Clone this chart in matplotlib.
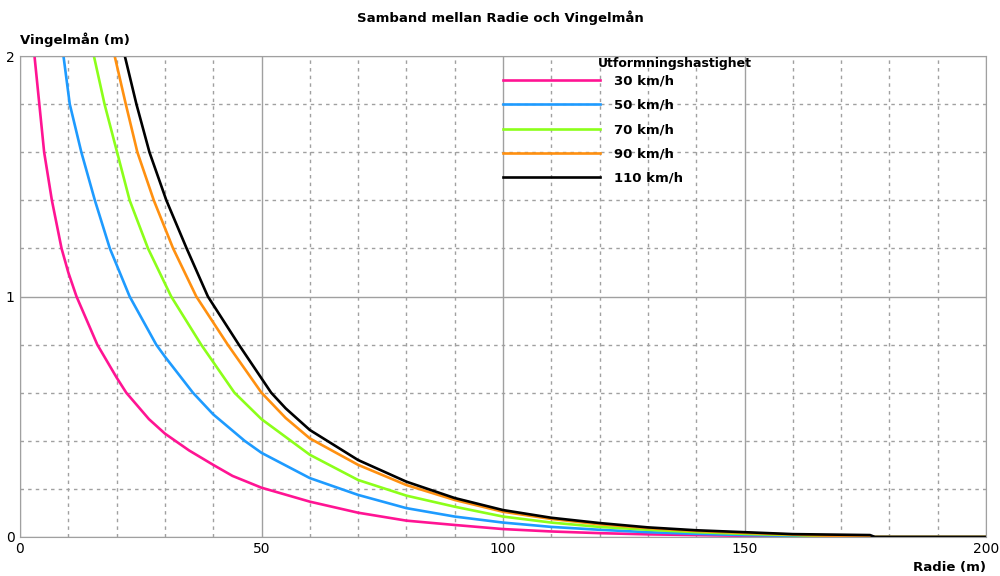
import matplotlib.pyplot as plt
from matplotlib.ticker import MultipleLocator

# Radie (m) and Vingelmån (m), one pair of lists per speed
r30 = [3.0, 4.0, 5.0, 6.6, 8.6, 10, 11.7, 16.0, 20, 22.0, 26.7, 30, 35, 40, 44, 50,
       60, 70, 80, 90, 100, 110, 120, 130, 140, 150, 160, 200]
v30 = [2.0, 1.8, 1.6, 1.4, 1.2, 1.1, 1.0, 0.8, 0.663, 0.6, 0.49, 0.43, 0.36, 0.30, 0.254,
       0.205, 0.147, 0.101, 0.068, 0.05, 0.033, 0.023, 0.016, 0.011, 0.008, 0.005,
       0.0, 0.0]

r50 = [9.0, 10.3, 12.7, 15.5, 18.6, 22.7, 28.2, 30, 35.8, 40, 46.5, 50, 60, 70, 80,
       90, 100, 110, 120, 130, 140, 150, 160, 169, 200]
v50 = [2.0, 1.8, 1.6, 1.4, 1.2, 1.0, 0.8, 0.75, 0.6, 0.51, 0.4, 0.35, 0.245, 0.175,
       0.12, 0.085, 0.06, 0.042, 0.03, 0.02, 0.013, 0.008, 0.005, 0.0, 0.0]

r70 = [15.3, 17.5, 20.1, 22.7, 26.5, 31.3, 37.5, 44.4, 50, 60, 70, 80, 90, 100, 110,
       120, 130, 140, 150, 160, 174, 200]
v70 = [2.0, 1.8, 1.6, 1.4, 1.2, 1.0, 0.8, 0.6, 0.49, 0.342, 0.237, 0.172, 0.126,
       0.085, 0.06, 0.042, 0.03, 0.02, 0.013, 0.008, 0.0, 0.0]

r90 = [19.6, 21.9, 24.3, 27.7, 31.7, 36.5, 43.0, 50.0, 55, 60, 70, 80, 90, 100, 110,
       120, 130, 140, 150, 160, 176, 200]
v90 = [2.0, 1.8, 1.6, 1.4, 1.2, 1.0, 0.8, 0.6, 0.495, 0.41, 0.30, 0.216, 0.154, 0.105,
       0.075, 0.053, 0.037, 0.025, 0.017, 0.01, 0.0, 0.0]

r110 = [21.7, 24.1, 26.8, 30.3, 34.5, 38.9, 45.3, 52, 55, 60, 70, 80, 90, 100, 110,
        120, 130, 140, 150, 160, 176, 177, 200]
v110 = [2.0, 1.8, 1.6, 1.4, 1.2, 1.0, 0.8, 0.6, 0.535, 0.445, 0.32, 0.23, 0.162, 0.112,
        0.08, 0.058, 0.04, 0.028, 0.02, 0.012, 0.008, 0.0, 0.0]

labels = ['30 km/h', '50 km/h', '70 km/h', '90 km/h', '110 km/h']
colors = ['#ff1493', '#1e9bff', '#8cff1a', '#ff9010', '#000000']
series = [(r30, v30), (r50, v50), (r70, v70), (r90, v90), (r110, v110)]

fig = plt.figure(figsize=(10, 5.76), dpi=100)
ax = fig.add_axes([0.020, 1 - 537 / 576, 0.966, 481 / 576])

for (r, v), lab, col in zip(series, labels, colors):
    ax.plot(r, v, color=col, lw=1.9, label=lab, solid_joinstyle='round')

ax.set_xlim(0, 200)
ax.set_ylim(0, 2)
ax.xaxis.set_major_locator(MultipleLocator(50))
ax.xaxis.set_minor_locator(MultipleLocator(10))
ax.yaxis.set_major_locator(MultipleLocator(1))
ax.yaxis.set_minor_locator(MultipleLocator(0.2))
ax.grid(which='major', color='#a0a0a0', lw=1, linestyle='-')
ax.grid(which='minor', color='#a0a0a0', lw=1, linestyle=(0, (2.5, 3)))
ax.set_axisbelow(True)
ax.tick_params(which='both', length=0, labelsize=10)
ax.tick_params(axis='y', pad=4)
for s in ax.spines.values():
    s.set_color('#a0a0a0')

fig.text(0.5, 1 - 18 / 576, 'Samband mellan Radie och Vingelmån', ha='center', va='center',
         fontsize=9.5, fontweight='bold')
fig.text(0.020, 1 - 40 / 576, 'Vingelmån (m)', ha='left', va='center',
         fontsize=9.5, fontweight='bold')
fig.text(0.986, 1 - 568 / 576, 'Radie (m)', ha='right', va='center',
         fontsize=9.5, fontweight='bold')

leg = ax.legend(loc='upper left', bbox_to_anchor=(0.488, 0.986), frameon=False,
                handlelength=7.3, handletextpad=1.1, labelspacing=0.86,
                prop={'size': 9.5, 'weight': 'bold'})
fig.text(0.675, 1 - 63 / 576, 'Utformningshastighet', ha='center', va='center',
         fontsize=9, fontweight='bold')

plt.savefig('out.png', dpi=100)
